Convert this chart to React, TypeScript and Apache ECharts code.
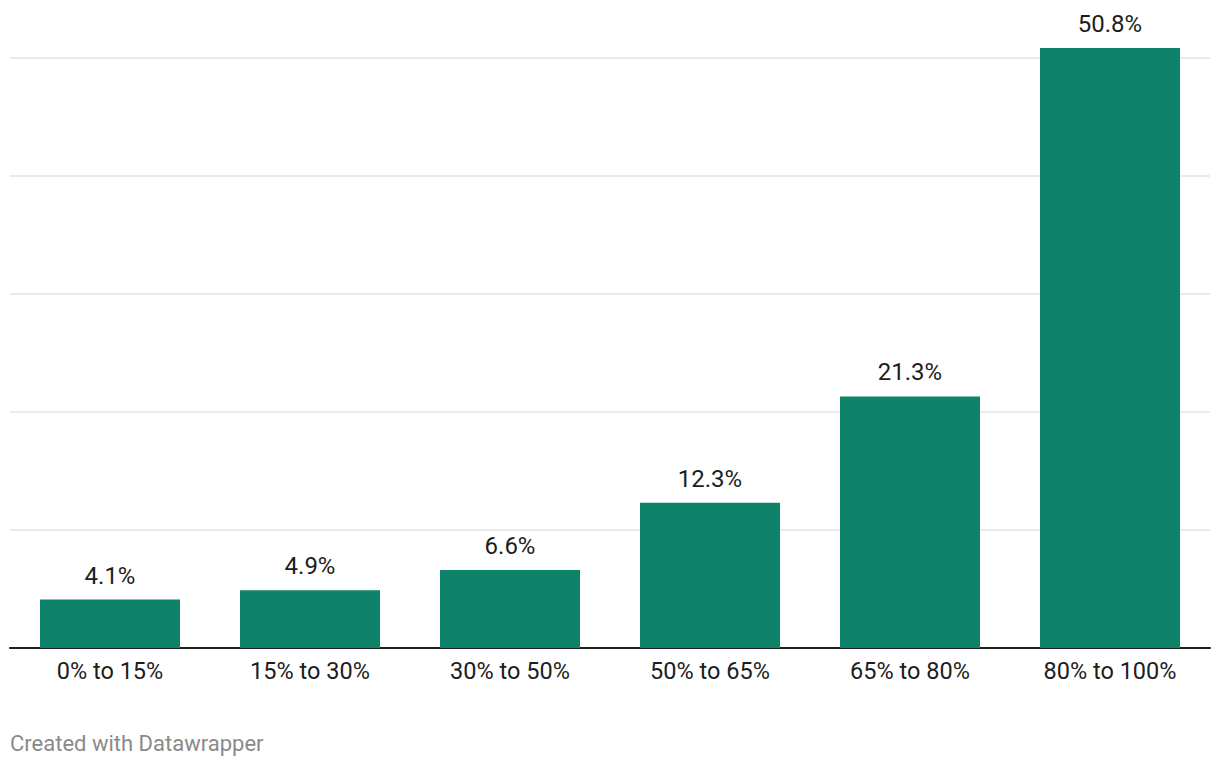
import React, { useEffect, useRef } from "react";
import * as echarts from "echarts";

const categories = ["0% to 15%", "15% to 30%", "30% to 50%", "50% to 65%", "65% to 80%", "80% to 100%"];
const values = [4.1, 4.9, 6.6, 12.3, 21.3, 50.8];
const yTicks = [0, 10, 20, 30, 40, 50];

export default function App() {
  const ref = useRef<HTMLDivElement>(null);
  useEffect(() => {
    if (!ref.current) return;
    const chart = echarts.init(ref.current, undefined, { renderer: "svg" });
    chart.setOption({
      animation: false,
      backgroundColor: "#ffffff",
      textStyle: { fontFamily: "Roboto" },
      grid: { left: 10, right: 10, top: 48, bottom: 120, containLabel: false },
      xAxis: {
        type: "category",
        data: categories,
        axisLine: { show: true, lineStyle: { color: "#1d1d1d", width: 2 } },
        axisTick: { show: false },
        axisLabel: { color: "#1d1d1d", fontSize: 23.5, margin: 11, fontFamily: "Roboto" },
      },
      yAxis: {
        type: "value",
        min: yTicks[0],
        max: 50.8,
        interval: 10,
        axisLine: { show: false },
        axisTick: { show: false },
        axisLabel: { show: false },
        splitLine: { show: true, showMaxLine: false, lineStyle: { color: "#e3e3e3", width: 1.5 } },
      },
      series: [
        {
          type: "bar",
          data: values,
          barWidth: 140,
          itemStyle: { color: "#0e8369" },
          label: {
            show: true,
            position: "top",
            distance: 12,
            color: "#1d1d1d",
            fontSize: 24,
            fontFamily: "Roboto",
            formatter: (p: any) => `${p.value}%`,
          },
        },
      ],
      graphic: [
        {
          type: "text",
          left: 10,
          top: 732,
          style: { text: "Created with Datawrapper", fill: "#8a8a8a", fontSize: 22, fontFamily: "Roboto" },
        },
      ],
    });
    return () => chart.dispose();
  }, []);
  return <div ref={ref} style={{ position: "absolute", left: 0, top: 0, width: 1220, height: 768 }} />;
}
